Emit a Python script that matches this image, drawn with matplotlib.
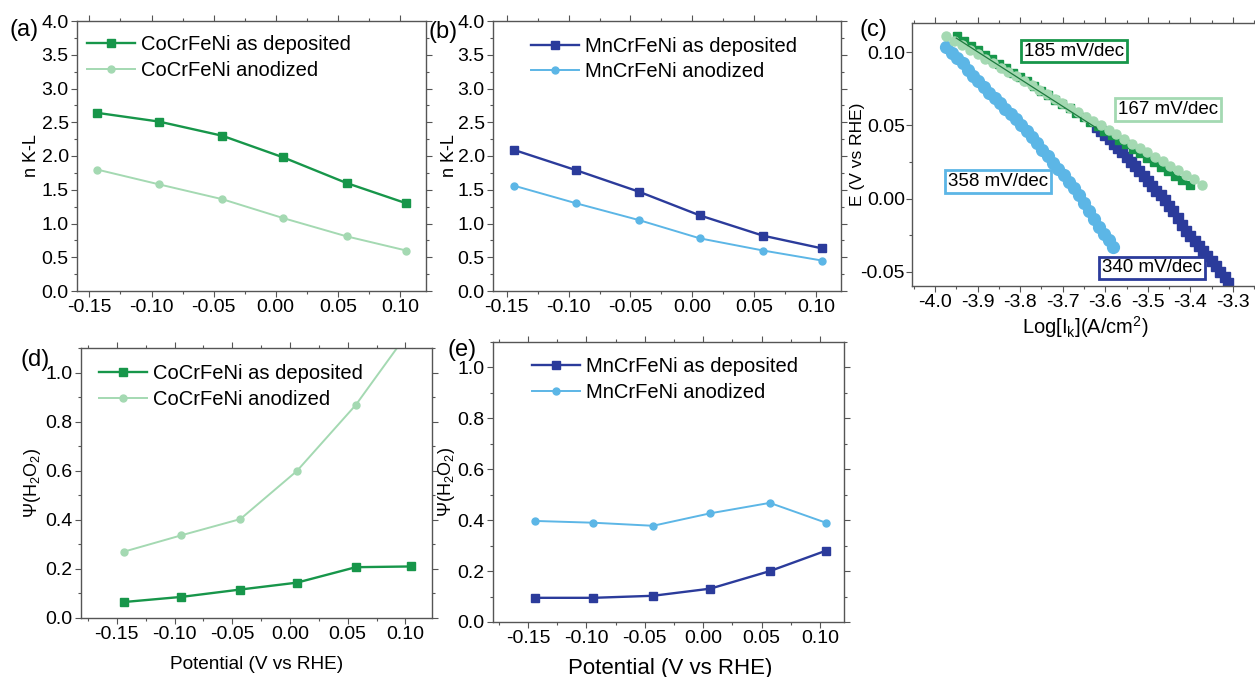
import matplotlib
matplotlib.use("Agg")
import matplotlib.pyplot as plt
from matplotlib.ticker import MultipleLocator, FuncFormatter

plt.rcParams['font.family'] = ['Liberation Sans', 'DejaVu Sans']
plt.rcParams['mathtext.fontset'] = 'custom'
plt.rcParams['mathtext.rm'] = 'Liberation Sans'
plt.rcParams['mathtext.it'] = 'Liberation Sans:italic'
plt.rcParams['axes.unicode_minus'] = False

# colours
dkgreen = '#17964a'
ltgreen = '#a4d9b2'
dkblue = '#2b3b9b'
ltblue = '#5cb6e6'

potential = [-0.144, -0.094, -0.043, 0.006, 0.057, 0.105]

# electron transfer number (K-L)
n_co_dep = [2.64, 2.51, 2.30, 1.98, 1.60, 1.30]
n_co_ano = [1.80, 1.58, 1.36, 1.08, 0.81, 0.60]
n_mn_dep = [2.09, 1.79, 1.47, 1.12, 0.82, 0.63]
n_mn_ano = [1.56, 1.30, 1.05, 0.78, 0.60, 0.45]

# H2O2 yield
psi_co_dep = [0.065, 0.086, 0.116, 0.144, 0.207, 0.210]
psi_co_ano = [0.270, 0.337, 0.403, 0.599, 0.868, 1.18]
psi_mn_dep = [0.095, 0.095, 0.103, 0.131, 0.200, 0.280]
psi_mn_ano = [0.397, 0.390, 0.378, 0.427, 0.468, 0.390]

# Tafel data (log Ik, E)
co_dep_log = [-3.949, -3.932, -3.915, -3.899, -3.882, -3.866, -3.849, -3.833, -3.816, -3.800,
              -3.783, -3.767, -3.750, -3.734, -3.717, -3.701, -3.684, -3.668, -3.651, -3.635,
              -3.618, -3.602, -3.585, -3.569, -3.552, -3.536, -3.519, -3.503, -3.486, -3.470,
              -3.453, -3.437, -3.420, -3.402]
co_dep_E = [0.1107, 0.1075, 0.1044, 0.1014, 0.0983, 0.0953, 0.0921, 0.0891, 0.0860, 0.0830,
            0.0799, 0.0769, 0.0737, 0.0708, 0.0676, 0.0646, 0.0615, 0.0585, 0.0554, 0.0524,
            0.0492, 0.0462, 0.0431, 0.0401, 0.0370, 0.0340, 0.0309, 0.0279, 0.0247, 0.0218,
            0.0186, 0.0157, 0.0125, 0.0091]

co_ano_log = [-3.973, -3.955, -3.937, -3.918, -3.900, -3.882, -3.864, -3.846, -3.828, -3.810,
              -3.791, -3.773, -3.755, -3.737, -3.719, -3.701, -3.683, -3.664, -3.646, -3.628,
              -3.610, -3.592, -3.574, -3.556, -3.537, -3.519, -3.501, -3.483, -3.465, -3.447,
              -3.429, -3.410, -3.392, -3.372]
co_ano_E = [0.1107, 0.1077, 0.1046, 0.1015, 0.0985, 0.0955, 0.0924, 0.0894, 0.0864, 0.0834,
            0.0802, 0.0772, 0.0742, 0.0711, 0.0681, 0.0651, 0.0621, 0.0589, 0.0559, 0.0529,
            0.0499, 0.0468, 0.0438, 0.0408, 0.0376, 0.0346, 0.0316, 0.0286, 0.0255, 0.0225,
            0.0195, 0.0163, 0.0133, 0.0096]

mn_ano_log = [-3.973, -3.960, -3.948, -3.935, -3.922, -3.910, -3.898, -3.885, -3.872, -3.860,
              -3.848, -3.835, -3.822, -3.810, -3.798, -3.785, -3.772, -3.760, -3.748, -3.735,
              -3.722, -3.710, -3.698, -3.686, -3.674, -3.662, -3.650, -3.638, -3.626, -3.614,
              -3.603, -3.592, -3.582]
mn_ano_E = [0.1034, 0.0995, 0.0962, 0.0925, 0.0875, 0.0835, 0.0800, 0.0762, 0.0722, 0.0688,
            0.0650, 0.0610, 0.0578, 0.0545, 0.0505, 0.0462, 0.0422, 0.0378, 0.0335, 0.0292,
            0.0245, 0.0205, 0.0160, 0.0115, 0.0070, 0.0022, -0.0028, -0.0085, -0.0140, -0.0192,
            -0.0240, -0.0285, -0.0330]

mn_dep_log = [-3.620, -3.610, -3.600, -3.590, -3.580, -3.570, -3.560, -3.550, -3.540, -3.530,
              -3.520, -3.510, -3.500, -3.490, -3.480, -3.470, -3.460, -3.450, -3.440, -3.430,
              -3.420, -3.410, -3.400, -3.390, -3.380, -3.370, -3.360, -3.350, -3.340, -3.330,
              -3.320, -3.311]
mn_dep_E = [0.0488, 0.0458, 0.0432, 0.0404, 0.0375, 0.0345, 0.0315, 0.0283, 0.0252, 0.0220,
            0.0188, 0.0155, 0.0118, 0.0085, 0.0055, 0.0022, -0.0012, -0.0048, -0.0085, -0.0130,
            -0.0180, -0.0218, -0.0252, -0.0290, -0.0322, -0.0356, -0.0392, -0.0428, -0.0462, -0.0500,
            -0.0537, -0.0573]

fit_log = [-3.95, -3.62]
fit_E = [0.1095, 0.0480]

W, H = 1255, 677


def box(x0, y0, x1, y1):
    # pixel box -> figure fraction
    return [x0 / W, 1 - y1 / H, (x1 - x0) / W, (y1 - y0) / H]


def fmt(nd):
    def f(v, p):
        if abs(v) < 1e-9:
            v = 0.0
        return ('%.' + str(nd) + 'f') % v
    return FuncFormatter(f)


def style(ax, xmaj, xmin, ymaj, ymin, xd, yd):
    ax.xaxis.set_major_locator(MultipleLocator(xmaj))
    ax.xaxis.set_minor_locator(MultipleLocator(xmin))
    ax.yaxis.set_major_locator(MultipleLocator(ymaj))
    ax.yaxis.set_minor_locator(MultipleLocator(ymin))
    ax.xaxis.set_major_formatter(fmt(xd))
    ax.yaxis.set_major_formatter(fmt(yd))
    ax.tick_params(which='both', direction='out', top=True, right=True,
                   labelsize=14, color='#555555', width=0.8, pad=2)
    ax.tick_params(which='major', length=4)
    ax.tick_params(which='minor', length=2.5)
    for s in ax.spines.values():
        s.set_color('#555555')
        s.set_linewidth(1.0)


def legend(ax, x, y):
    ax.legend(loc='upper left', bbox_to_anchor=(x, y), frameon=False, fontsize=14.5,
              borderpad=0, borderaxespad=0, handlelength=2.4, handletextpad=0.3,
              labelspacing=0.33)


fig = plt.figure(figsize=(W / 100, H / 100), dpi=100)

# (a)
ax1 = fig.add_axes(box(77, 21, 426, 291))
ax1.plot(potential, n_co_dep, '-s', color=dkgreen, lw=1.7, ms=5.5, label='CoCrFeNi as deposited')
ax1.plot(potential, n_co_ano, '-o', color=ltgreen, lw=1.4, ms=5.0, label='CoCrFeNi anodized')
ax1.set_xlim(-0.16, 0.121)
ax1.set_ylim(0, 4.0)
style(ax1, 0.05, 0.025, 0.5, 0.25, 2, 1)
ax1.set_ylabel('n K-L', fontsize=13)
ax1.yaxis.set_label_coords(-0.105, 0.5)
legend(ax1, 0.029, 0.948)

# (b)
ax2 = fig.add_axes(box(493, 21, 841, 291))
ax2.plot(potential, n_mn_dep, '-s', color=dkblue, lw=1.7, ms=5.5, label='MnCrFeNi as deposited')
ax2.plot(potential, n_mn_ano, '-o', color=ltblue, lw=1.4, ms=5.0, label='MnCrFeNi anodized')
ax2.set_xlim(-0.161, 0.12)
ax2.set_ylim(0, 4.0)
style(ax2, 0.05, 0.025, 0.5, 0.25, 2, 1)
ax2.set_ylabel('n K-L', fontsize=13)
ax2.yaxis.set_label_coords(-0.10, 0.5)
legend(ax2, 0.109, 0.942)

# (c)
ax3 = fig.add_axes(box(912, 23, 1262, 286))
ax3.plot(mn_dep_log, mn_dep_E, 's', color=dkblue, ms=7.5, ls='none')
ax3.plot(mn_ano_log, mn_ano_E, 'o', color=ltblue, ms=8.5, ls='none')
ax3.plot(co_dep_log, co_dep_E, 's', color=dkgreen, ms=5.5, ls='none')
ax3.plot(co_ano_log, co_ano_E, 'o', color=ltgreen, ms=6.5, ls='none')
ax3.plot(fit_log, fit_E, '-', color='#1d7a3e', lw=0.9)
ax3.set_xlim(-4.054, -3.232)
ax3.set_ylim(-0.0596, 0.1198)
style(ax3, 0.1, 0.05, 0.05, 0.025, 1, 2)
ax3.tick_params(axis='y', pad=1)
ax3.set_ylabel('E (V vs RHE)', fontsize=12.5)
ax3.yaxis.set_label_coords(-0.134, 0.5)
ax3.set_xlabel(r'Log[I$_\mathrm{k}$](A/cm$^2$)', fontsize=14.5)
ax3.xaxis.set_label_coords(0.494, -0.106)
tb = [('185 mV/dec', -3.674, 0.1007, dkgreen),
      ('167 mV/dec', -3.453, 0.0610, ltgreen),
      ('358 mV/dec', -3.852, 0.0116, ltblue),
      ('340 mV/dec', -3.491, -0.0473, dkblue)]
for s, x, y, c in tb:
    ax3.text(x, y, s, ha='center', va='center', fontsize=13.5,
             bbox=dict(boxstyle='square,pad=0.15', fc='white', ec=c, lw=2))

# (d)
ax4 = fig.add_axes(box(81, 348, 432, 618))
ax4.plot(potential, psi_co_dep, '-s', color=dkgreen, lw=1.7, ms=5.5, label='CoCrFeNi as deposited')
ax4.plot(potential, psi_co_ano, '-o', color=ltgreen, lw=1.4, ms=5.0, label='CoCrFeNi anodized')
ax4.set_xlim(-0.181, 0.123)
ax4.set_ylim(0, 1.1)
style(ax4, 0.05, 0.025, 0.2, 0.1, 2, 1)
ax4.set_ylabel('Ψ(H$_2$O$_2$)', fontsize=13)
ax4.yaxis.set_label_coords(-0.108, 0.5)
ax4.set_xlabel('Potential (V vs RHE)', fontsize=13.7)
ax4.xaxis.set_label_coords(0.501, -0.141)
legend(ax4, 0.051, 0.939)

# (e)
ax5 = fig.add_axes(box(493, 342, 844, 622))
ax5.plot(potential, psi_mn_dep, '-s', color=dkblue, lw=1.7, ms=5.5, label='MnCrFeNi as deposited')
ax5.plot(potential, psi_mn_ano, '-o', color=ltblue, lw=1.4, ms=5.0, label='MnCrFeNi anodized')
ax5.set_xlim(-0.18, 0.1205)
ax5.set_ylim(0, 1.1)
style(ax5, 0.05, 0.025, 0.2, 0.1, 2, 1)
ax5.set_ylabel('Ψ(H$_2$O$_2$)', fontsize=13)
ax5.yaxis.set_label_coords(-0.103, 0.5)
ax5.set_xlabel('Potential (V vs RHE)', fontsize=16)
ax5.xaxis.set_label_coords(0.504, -0.128)
legend(ax5, 0.111, 0.945)

# panel letters
for s, x, y in [('(a)', 24, 30), ('(b)', 443, 32), ('(c)', 873, 30), ('(d)', 35, 360), ('(e)', 462, 350)]:
    fig.text(x / W, 1 - y / H, s, ha='center', va='center', fontsize=17)

fig.savefig('out.png', dpi=100)
